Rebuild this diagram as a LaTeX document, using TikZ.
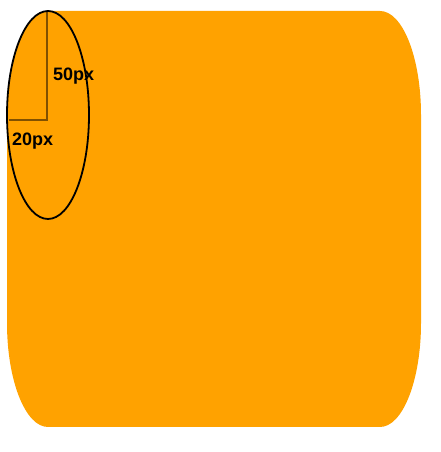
\documentclass[tikz,border=0pt]{standalone}
\usepackage{fontspec}
\setmainfont{Liberation Sans}
\usepackage{xcolor}
\usepackage{tikz}
\definecolor{boxorange}{HTML}{FFA200}
\definecolor{guide}{HTML}{805000}

\begin{document}
\begin{tikzpicture}[x=1pt,y=1pt,
  lbl/.style={anchor=west,inner sep=0pt,font=\bfseries\fontsize{18}{20}\selectfont}]
\useasboundingbox (0,0) rectangle (441,452);
% Box with elliptical corners, radii 41 x 104
\fill[boxorange] (48,441) -- (380,441)
  arc[start angle=90,end angle=0,x radius=41,y radius=104] -- (421,129)
  arc[start angle=0,end angle=-90,x radius=41,y radius=104] -- (48,25)
  arc[start angle=270,end angle=180,x radius=41,y radius=104] -- (7,337)
  arc[start angle=180,end angle=90,x radius=41,y radius=104] -- cycle;
% Radius guides
\coordinate (top) at (47,441);
\coordinate (corner) at (47,332);
\coordinate (side) at (9,332);
\draw[guide,line width=2pt] (top) -- (corner) -- (side);
% Corner ellipse
\draw[line width=1.8pt] (48,337) ellipse[x radius=41,y radius=104];
\node[lbl] (ry) at (53,376) {50px};
\node[lbl] (rx) at (12,311) {20px};
\end{tikzpicture}
\end{document}
